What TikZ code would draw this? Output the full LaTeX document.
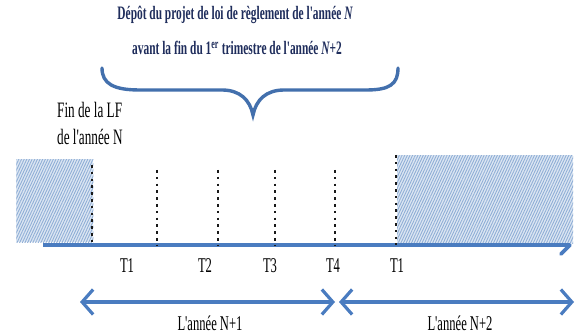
\documentclass[tikz,border=0pt]{standalone}
\usepackage{fontspec}
\newfontfamily\cond[FakeStretch=0.6]{Liberation Serif}
\usetikzlibrary{arrows.meta,patterns.meta}
\definecolor{navy}{HTML}{1F2D5C}
\definecolor{axisblue}{HTML}{4A7CC0}
\definecolor{hatchblue}{HTML}{8FAED6}
\tikzset{
  hatchbox/.style={draw=none,inner sep=0pt,anchor=north west,
    preaction={fill=hatchblue!30},
    pattern={Lines[angle=65,distance=2.4pt,line width=0.9pt]},pattern color=hatchblue},
  tick/.style={draw=black!90,line width=2.2pt,dash pattern=on 2.6pt off 4.2pt},
  axisline/.style={draw=axisblue,line width=3.6pt},
  yeararrow/.style={draw=axisblue,line width=3.6pt,
    {Straight Barb[length=11pt,width=25pt,line width=3.2pt]}-{Straight Barb[length=11pt,width=25pt,line width=3.2pt]}},
  bracestyle/.style={draw=axisblue!90!black,line width=3.4pt,line cap=round},
  titletext/.style={font=\cond\bfseries\fontsize{19}{22}\selectfont,text=navy,inner sep=0pt},
  lbl/.style={font=\cond\fontsize{21}{23}\selectfont,text=black,inner sep=0pt},
  lflbl/.style={lbl,font=\cond\fontsize{22}{24}\selectfont,anchor=west},
}
\begin{document}
\begin{tikzpicture}[x=1pt,y=-1pt]
\useasboundingbox (0,0) rectangle (584,336);
\fill[white] (0,0) rectangle (584,336);

% hatched areas
\node[hatchbox,minimum width=77pt,minimum height=83pt] (lbox) at (16,159) {};
\node[hatchbox,minimum width=176pt,minimum height=88pt] (rbox) at (397,155) {};

% axis
\coordinate (ax0) at (43,245);
\coordinate (ax1) at (570,245);
\coordinate (axb) at (561,254);
\draw[axisline] (ax0) -- (ax1);
\draw[axisline,line cap=round] (ax1) -- (axb);

% dotted ticks
\coordinate (d0t) at (92,165);  \coordinate (d0b) at (92,245);
\coordinate (d1t) at (157,170); \coordinate (d1b) at (157,245);
\coordinate (d2t) at (218,170); \coordinate (d2b) at (218,245);
\coordinate (d3t) at (275,170); \coordinate (d3b) at (275,245);
\coordinate (d4t) at (335,170); \coordinate (d4b) at (335,245);
\coordinate (d5t) at (396,155); \coordinate (d5b) at (396,245);
\draw[tick] (d0t) -- (d0b);
\draw[tick] (d1t) -- (d1b);
\draw[tick] (d2t) -- (d2b);
\draw[tick] (d3t) -- (d3b);
\draw[tick] (d4t) -- (d4b);
\draw[tick] (d5t) -- (d5b);

% quarter labels
\node[lbl] (q1) at (127,266) {T1};
\node[lbl] (q2) at (205,266) {T2};
\node[lbl] (q3) at (270,266) {T3};
\node[lbl] (q4) at (333,266) {T4};
\node[lbl] (q5) at (397,266) {T1};

% year arrows
\coordinate (y1a) at (80,302);  \coordinate (y1b) at (335,302);
\coordinate (y2a) at (339,302); \coordinate (y2b) at (574,302);
\draw[yeararrow] (y1a) -- (y1b);
\draw[yeararrow] (y2a) -- (y2b);
\node[lbl] (ny1) at (210,323) {L'année N+1};
\node[lbl] (ny2) at (460,323) {L'année N+2};

% end of LF
\node[lflbl] (lf1) at (57,110) {Fin de la LF};
\node[lflbl] (lf2) at (57,137) {de l'année N};

% title
\node[titletext] (t1) at (235,15) {Dépôt du projet de loi de règlement de l'année {\itshape N}};
\node[titletext] (t2) at (237,48) {avant la fin du 1\textsuperscript{er} trimestre de l'année {\itshape N}+2};

% brace
\draw[bracestyle] (102,68) .. controls (102,84) and (114,90) .. (140,90)
  -- (222,90) .. controls (240,90) and (250,100) .. (253,115)
  .. controls (256,100) and (266,90) .. (284,90)
  -- (366,90) .. controls (390,90) and (398,84) .. (398,68);
\end{tikzpicture}
\end{document}
